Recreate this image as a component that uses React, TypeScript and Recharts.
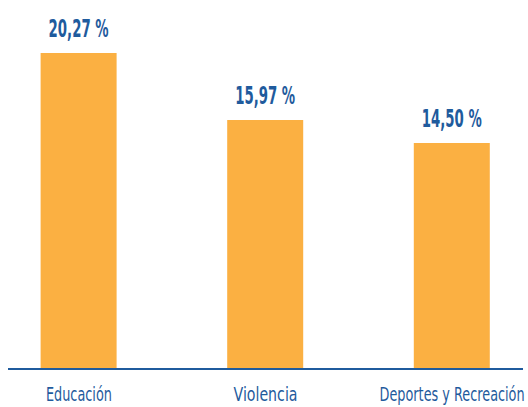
import React from 'react';
import { BarChart, Bar, XAxis, YAxis, LabelList } from 'recharts';

const categories = ['Educación', 'Violencia', 'Deportes y Recreación'];
const shares = [20.27, 15.97, 14.5];
const shareLabels = ['20,27 %', '15,97 %', '14,50 %'];

const data = categories.map((name, i) => ({
  idx: i,
  name,
  value: shares[i],
  label: shareLabels[i],
}));

const BLUE = '#1f5b9d';
const FONT = '"DejaVu Sans", sans-serif';
// the original uses a narrow face, so squeeze text to its measured width
const tickWidths = [66, 64, 145];

const CategoryTick = (props: any) => {
  const { x, y, payload } = props;
  const i = payload.value;
  return (
    <text
      x={x}
      y={y + 24}
      textAnchor="middle"
      fill={BLUE}
      fontFamily={FONT}
      fontSize={20}
      textLength={tickWidths[i]}
      lengthAdjust="spacingAndGlyphs"
    >
      {categories[i]}
    </text>
  );
};

const ValueLabel = (props: any) => {
  const { x, y, width, value } = props;
  return (
    <text
      x={x + width / 2}
      y={y - 16}
      textAnchor="middle"
      fill={BLUE}
      fontFamily={FONT}
      fontWeight="bold"
      fontSize={24}
      textLength={60}
      lengthAdjust="spacingAndGlyphs"
    >
      {value}
    </text>
  );
};

const App = () => {
  return (
    <div style={{ position: 'absolute', left: 0, top: 0 }}>
      <BarChart width={528} height={407} data={data} margin={{ top: 26, right: 5, bottom: 8, left: 8 }}>
        <XAxis
          type="number"
          dataKey="idx"
          domain={[-0.38, 2.38]}
          ticks={[0, 1, 2]}
          height={30}
          tickLine={false}
          axisLine={{ stroke: BLUE, strokeWidth: 2 }}
          tick={<CategoryTick />}
          interval={0}
        />
        <YAxis hide domain={[0, 22]} />
        <Bar dataKey="value" fill="#fbb042" barSize={76} isAnimationActive={false}>
          <LabelList dataKey="label" content={<ValueLabel />} />
        </Bar>
      </BarChart>
    </div>
  );
};

export default App;
